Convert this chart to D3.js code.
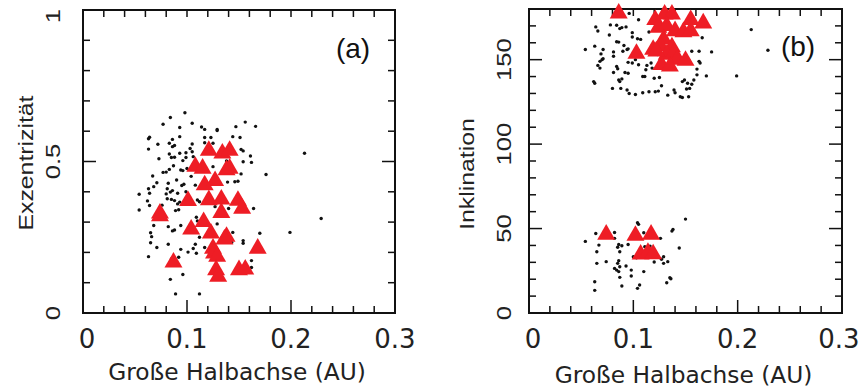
<!DOCTYPE html>
<html>
<head>
<meta charset="utf-8">
<script src="https://cdn.jsdelivr.net/npm/d3@7"></script>
<style>
  html, body { margin: 0; padding: 0; background: #fff; }
  svg { display: block; }
</style>
</head>
<body>
<svg id="chart" width="861" height="391"></svg>
<script>
// Panel (a): semi-major axis (AU) vs. eccentricity
const dotsA = [
  [0.098,0.661],[0.084,0.645],[0.077,0.623],[0.093,0.612],[0.105,0.626],[0.114,0.614],[0.117,0.606],[0.129,0.606],
  [0.129,0.602],[0.156,0.630],[0.147,0.615],[0.166,0.616],[0.064,0.580],[0.063,0.575],[0.086,0.573],[0.093,0.582],
  [0.072,0.557],[0.086,0.549],[0.088,0.553],[0.117,0.579],[0.123,0.579],[0.117,0.562],[0.125,0.560],[0.144,0.582],
  [0.151,0.579],[0.083,0.560],[0.063,0.541],[0.105,0.558],[0.103,0.543],[0.099,0.529],[0.152,0.540],[0.154,0.535],
  [0.083,0.525],[0.085,0.513],[0.088,0.514],[0.073,0.509],[0.093,0.527],[0.099,0.513],[0.096,0.503],[0.105,0.532],
  [0.106,0.516],[0.161,0.518],[0.162,0.497],[0.154,0.499],[0.213,0.527],[0.094,0.472],[0.096,0.470],[0.087,0.486],
  [0.083,0.474],[0.080,0.465],[0.077,0.464],[0.067,0.452],[0.100,0.477],[0.125,0.483],[0.138,0.502],[0.152,0.459],
  [0.176,0.457],[0.090,0.439],[0.082,0.428],[0.071,0.430],[0.068,0.417],[0.063,0.410],[0.064,0.395],[0.081,0.410],
  [0.097,0.425],[0.095,0.421],[0.104,0.451],[0.108,0.422],[0.116,0.428],[0.139,0.432],[0.146,0.433],[0.149,0.435],
  [0.086,0.404],[0.084,0.399],[0.099,0.400],[0.091,0.395],[0.054,0.392],[0.062,0.370],[0.064,0.355],[0.081,0.377],
  [0.085,0.375],[0.088,0.371],[0.080,0.393],[0.110,0.373],[0.112,0.367],[0.119,0.375],[0.054,0.340],[0.072,0.329],
  [0.089,0.338],[0.092,0.341],[0.093,0.366],[0.091,0.360],[0.076,0.356],[0.099,0.362],[0.127,0.351],[0.140,0.345],
  [0.164,0.345],[0.109,0.316],[0.110,0.304],[0.129,0.294],[0.068,0.289],[0.082,0.285],[0.088,0.274],[0.086,0.271],
  [0.094,0.289],[0.065,0.265],[0.066,0.252],[0.112,0.250],[0.144,0.266],[0.170,0.263],[0.199,0.266],[0.229,0.312],
  [0.065,0.232],[0.071,0.216],[0.082,0.227],[0.094,0.210],[0.101,0.201],[0.106,0.213],[0.108,0.227],[0.117,0.216],
  [0.143,0.233],[0.154,0.239],[0.154,0.230],[0.063,0.186],[0.085,0.178],[0.092,0.184],[0.109,0.197],[0.162,0.173],
  [0.162,0.150],[0.096,0.127],[0.084,0.111],[0.089,0.063],[0.112,0.063]
];
const trianglesA = [
  [0.121,0.536],[0.134,0.527],[0.141,0.536],[0.108,0.483],[0.115,0.477],[0.138,0.472],[0.141,0.477],[0.117,0.422],
  [0.127,0.436],[0.101,0.370],[0.121,0.373],[0.133,0.375],[0.149,0.371],[0.153,0.345],[0.074,0.329],[0.074,0.320],
  [0.133,0.331],[0.116,0.301],[0.104,0.276],[0.123,0.263],[0.138,0.252],[0.136,0.243],[0.125,0.213],[0.126,0.197],
  [0.129,0.186],[0.168,0.213],[0.087,0.167],[0.128,0.142],[0.130,0.120],[0.150,0.142],[0.156,0.144]
];

// Panel (b): semi-major axis (AU) vs. inclination (degrees)
const dotsB = [
  [0.096,177.4],[0.105,173.6],[0.064,169.4],[0.066,167],[0.078,170.6],[0.084,170.4],[0.089,169],[0.087,168.4],
  [0.093,169.4],[0.077,164.6],[0.084,160.6],[0.086,160.4],[0.091,158.4],[0.099,166],[0.099,163.4],[0.104,162.4],
  [0.107,162],[0.115,166.4],[0.063,158],[0.054,156],[0.069,153.4],[0.071,150.6],[0.070,150],[0.068,149],
  [0.066,146.6],[0.068,145],[0.081,154.6],[0.081,152],[0.090,155],[0.094,156],[0.095,148.4],[0.084,146],
  [0.085,144.6],[0.092,142.4],[0.095,142],[0.081,142.4],[0.106,152],[0.102,150],[0.105,147],[0.113,146.6],
  [0.112,144],[0.117,148],[0.123,153],[0.109,140],[0.111,140],[0.120,139],[0.125,139.4],[0.062,137],
  [0.063,136],[0.080,133],[0.086,138],[0.087,137],[0.088,133],[0.094,132],[0.096,130],[0.102,129.4],
  [0.109,130.4],[0.115,131],[0.121,131],[0.127,134.6],[0.133,129],[0.139,132],[0.140,130.4],[0.145,128],
  [0.147,127.6],[0.147,137],[0.149,138],[0.152,136],[0.156,135.4],[0.154,133],[0.153,128],[0.158,138],
  [0.161,141],[0.156,155],[0.163,155],[0.163,149],[0.164,148],[0.161,144.4],[0.166,163],[0.170,140.4],
  [0.175,154.6],[0.199,140.4],[0.213,167.8],[0.229,155.6],[0.071,156],[0.095,156.4],[0.099,148],[0.089,138.6],
  [0.153,150],[0.118,145],[0.151,132.6],[0.124,131.4],
  [0.150,55.6],[0.104,53.5],[0.105,52.5],[0.138,49.5],[0.137,48.5],[0.064,47.1],[0.082,47.7],[0.082,44.2],
  [0.110,47.5],[0.126,44.2],[0.054,42.4],[0.067,40.2],[0.086,40.6],[0.089,39.8],[0.085,38.9],[0.095,40.6],
  [0.111,39.3],[0.116,39.6],[0.144,38.5],[0.065,36.3],[0.087,36.3],[0.100,33.3],[0.103,32.7],[0.129,33.3],
  [0.127,31.8],[0.086,31],[0.085,29.4],[0.074,30.4],[0.065,29.4],[0.120,30.2],[0.129,29.4],[0.133,30.4],
  [0.093,27.8],[0.082,26.4],[0.084,25.4],[0.087,27.4],[0.098,25.4],[0.110,24.5],[0.086,24.5],[0.087,21.1],
  [0.098,21.9],[0.135,20.9],[0.136,20.3],[0.063,18.5],[0.132,17.9],[0.089,16],[0.106,16.6],[0.104,14.6],
  [0.063,13.4]
];
const trianglesB = [
  [0.086,177.4],[0.121,173.6],[0.130,176.8],[0.137,176.8],[0.155,173.6],[0.167,171.6],[0.124,169],[0.132,170],
  [0.140,167],[0.148,166.4],[0.155,167],[0.129,162],[0.126,158],[0.119,156],[0.137,157.4],[0.103,153.6],
  [0.132,153],[0.139,154],[0.142,150],[0.150,149.4],[0.127,147],[0.135,146],[0.122,155],
  [0.074,46.5],[0.102,45.8],[0.117,46.5],[0.107,34.7],[0.114,35.7],[0.119,34.9]
];

// Axis ticks and labels
const xDomain = [0, 0.3];
const xTickLabels = ["0", "0.1", "0.2", "0.3"];
const xMajor = [0, 0.1, 0.2, 0.3];
const yMajorA = [0, 0.5, 1];
const yTickLabelsA = ["0", "0.5", "1"];
const yMajorB = [0, 50, 100, 150];
const yTickLabelsB = ["0", "50", "100", "150"];
const xTitle = "Große Halbachse (AU)";
const yTitleA = "Exzentrizität";
const yTitleB = "Inklination";

const svg = d3.select("#chart");
const RED = "#ee1d25";

function panel(cfg) {
  const g = svg.append("g");
  const x = d3.scaleLinear().domain(xDomain).range([cfg.left, cfg.right]);
  const y = d3.scaleLinear().domain(cfg.yDomain).range([cfg.bottom, cfg.top]);

  // inward ticks on all four sides
  const ticks = g.append("g").attr("stroke", "#111").attr("stroke-width", 1.5);
  const xMinor = d3.range(0, 0.3001, 0.02);
  xMinor.forEach(v => {
    const isMajor = xMajor.some(m => Math.abs(m - v) < 1e-9);
    const len = isMajor ? 13 : 7;
    ticks.append("line").attr("x1", x(v)).attr("x2", x(v))
      .attr("y1", cfg.bottom).attr("y2", cfg.bottom - len);
    ticks.append("line").attr("x1", x(v)).attr("x2", x(v))
      .attr("y1", cfg.top).attr("y2", cfg.top + 7);
  });
  d3.range(cfg.yDomain[0], cfg.yDomain[1] + cfg.yStep / 2, cfg.yStep).forEach(v => {
    const isMajor = cfg.yMajor.some(m => Math.abs(m - v) < 1e-9);
    const len = isMajor ? 13 : 7;
    ticks.append("line").attr("x1", cfg.left).attr("x2", cfg.left + len)
      .attr("y1", y(v)).attr("y2", y(v));
    ticks.append("line").attr("x1", cfg.right).attr("x2", cfg.right - len)
      .attr("y1", y(v)).attr("y2", y(v));
  });

  // frame
  g.append("rect")
    .attr("x", cfg.left).attr("y", cfg.top)
    .attr("width", cfg.right - cfg.left).attr("height", cfg.bottom - cfg.top)
    .attr("fill", "none").attr("stroke", "#111").attr("stroke-width", 2);

  // x tick labels
  g.append("g").selectAll("text").data(xMajor).join("text")
    .attr("x", (d, i) => x(d) + (i === 0 ? 4 : 0) + (i === xMajor.length - 1 ? cfg.lastLabelShift : 0))
    .attr("y", 348)
    .attr("text-anchor", "middle")
    .attr("font-family", "DejaVu Sans")
    .attr("font-size", 26)
    .attr("fill", "#222")
    .text((d, i) => xTickLabels[i]);

  // y tick labels, rotated
  g.append("g").selectAll("text").data(cfg.yMajor).join("text")
    .attr("transform", d => `translate(${cfg.yLabelX},${Math.max(y(d), cfg.top + 6)}) rotate(-90) scale(1.22,1)`)
    .attr("text-anchor", "middle")
    .attr("font-family", "Liberation Sans")
    .attr("font-size", 21)
    .attr("fill", "#222")
    .text((d, i) => cfg.yLabels[i]);

  // axis titles
  g.append("text")
    .attr("x", (cfg.left + cfg.right) / 2 - 2)
    .attr("y", cfg.xTitleY)
    .attr("text-anchor", "middle")
    .attr("font-family", "DejaVu Sans")
    .attr("font-size", 23.3)
    .attr("fill", "#222")
    .text(xTitle);

  g.append("text")
    .attr("transform", `translate(${cfg.yTitleX},${cfg.yTitleY}) rotate(-90) scale(1.24,1)`)
    .attr("text-anchor", "middle")
    .attr("font-family", "Liberation Sans")
    .attr("font-size", 20)
    .attr("fill", "#222")
    .text(cfg.yTitle);

  // panel tag
  g.append("text")
    .attr("x", cfg.tagX).attr("y", cfg.tagY)
    .attr("text-anchor", "middle")
    .attr("font-family", "Liberation Sans")
    .attr("font-size", 28)
    .attr("fill", "#111")
    .text(cfg.tag);

  // small black dots
  g.append("g").selectAll("circle").data(cfg.dots).join("circle")
    .attr("cx", d => x(d[0])).attr("cy", d => y(d[1]))
    .attr("r", 1.7).attr("fill", "#111");

  // red triangles
  const tri = d3.symbol().type(d3.symbolTriangle).size(140);
  g.append("g").selectAll("path").data(cfg.tris).join("path")
    .attr("d", tri)
    .attr("transform", d => `translate(${x(d[0])},${y(d[1])})`)
    .attr("fill", RED);
}

panel({
  left: 83, right: 395, top: 10, bottom: 313,
  yDomain: [0, 1], yStep: 0.1, yMajor: yMajorA, yLabels: yTickLabelsA,
  yLabelX: 60, xTitleY: 380, yTitleX: 33, yTitleY: 163, yTitle: yTitleA,
  tag: "(a)", tagX: 353, tagY: 58, lastLabelShift: 0,
  dots: dotsA, tris: trianglesA
});

panel({
  left: 529, right: 842, top: 9, bottom: 313,
  yDomain: [0, 180], yStep: 10, yMajor: yMajorB, yLabels: yTickLabelsB,
  yLabelX: 511, xTitleY: 383, yTitleX: 474, yTitleY: 174, yTitle: yTitleB,
  tag: "(b)", tagX: 798, tagY: 56, lastLabelShift: -3,
  dots: dotsB, tris: trianglesB
});
</script>
</body>
</html>
